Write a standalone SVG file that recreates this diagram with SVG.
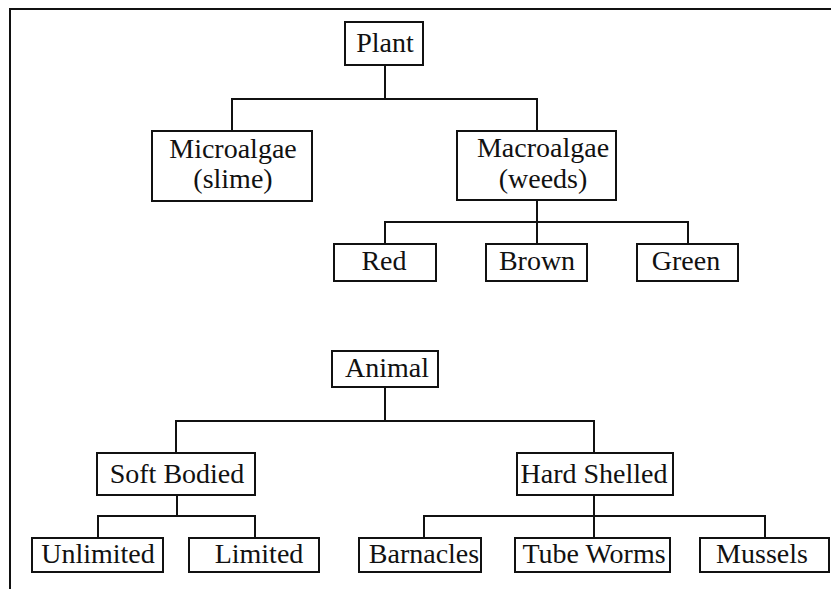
<svg xmlns="http://www.w3.org/2000/svg" width="831" height="589" viewBox="0 0 831 589">
<style>
.box{fill:#fff;stroke:#111;stroke-width:2}
.lbl{font-family:"Liberation Serif","Times New Roman",serif;font-size:28px;fill:#111;text-anchor:middle}
.ln{fill:none;stroke:#111;stroke-width:2}
</style>
<rect width="831" height="589" fill="#fff"/>
<path class="ln" d="M10,589 V9 H831"/>
<g id="connectors">
<path class="ln" d="M385,65 V99"/>
<path class="ln" d="M232,131 V99 H537 V131"/>
<path class="ln" d="M537,200 V222"/>
<path class="ln" d="M385,244 V222 H688 V244"/>
<path class="ln" d="M537,222 V244"/>
<path class="ln" d="M385,387 V421"/>
<path class="ln" d="M176,453 V421 H594 V453"/>
<path class="ln" d="M177,495 V516"/>
<path class="ln" d="M98,538 V516 H255 V538"/>
<path class="ln" d="M594,495 V516"/>
<path class="ln" d="M424,538 V516 H765 V538"/>
<path class="ln" d="M594,516 V538"/>
</g>
<g id="plant"><rect class="box" x="345" y="22" width="78" height="43"/><text class="lbl" x="385" y="52">Plant</text></g>
<g id="microalgae"><rect class="box" x="152" y="131" width="160" height="70"/><text class="lbl" x="233" y="158">Microalgae</text><text class="lbl" x="233" y="188">(slime)</text></g>
<g id="macroalgae"><rect class="box" x="457" y="131" width="159" height="69"/><text class="lbl" x="543" y="157">Macroalgae</text><text class="lbl" x="543" y="188">(weeds)</text></g>
<g id="red"><rect class="box" x="334" y="244" width="102" height="37"/><text class="lbl" x="384" y="270">Red</text></g>
<g id="brown"><rect class="box" x="486" y="244" width="101" height="37"/><text class="lbl" x="537" y="270">Brown</text></g>
<g id="green"><rect class="box" x="637" y="244" width="101" height="37"/><text class="lbl" x="686" y="270">Green</text></g>
<g id="animal"><rect class="box" x="332" y="351" width="106" height="36"/><text class="lbl" x="387" y="377">Animal</text></g>
<g id="soft-bodied"><rect class="box" x="97" y="453" width="158" height="42"/><text class="lbl" x="177" y="483">Soft Bodied</text></g>
<g id="hard-shelled"><rect class="box" x="517" y="453" width="156" height="42"/><text class="lbl" x="594" y="483">Hard Shelled</text></g>
<g id="unlimited"><rect class="box" x="32" y="538" width="131" height="34"/><text class="lbl" x="98" y="563">Unlimited</text></g>
<g id="limited"><rect class="box" x="189" y="538" width="130" height="34"/><text class="lbl" x="259" y="563">Limited</text></g>
<g id="barnacles"><rect class="box" x="359" y="538" width="122" height="34"/><text class="lbl" x="424" y="563">Barnacles</text></g>
<g id="tube-worms"><rect class="box" x="515" y="538" width="155" height="34"/><text class="lbl" x="594" y="563">Tube Worms</text></g>
<g id="mussels"><rect class="box" x="700" y="538" width="129" height="34"/><text class="lbl" x="762" y="563">Mussels</text></g>
</svg>
